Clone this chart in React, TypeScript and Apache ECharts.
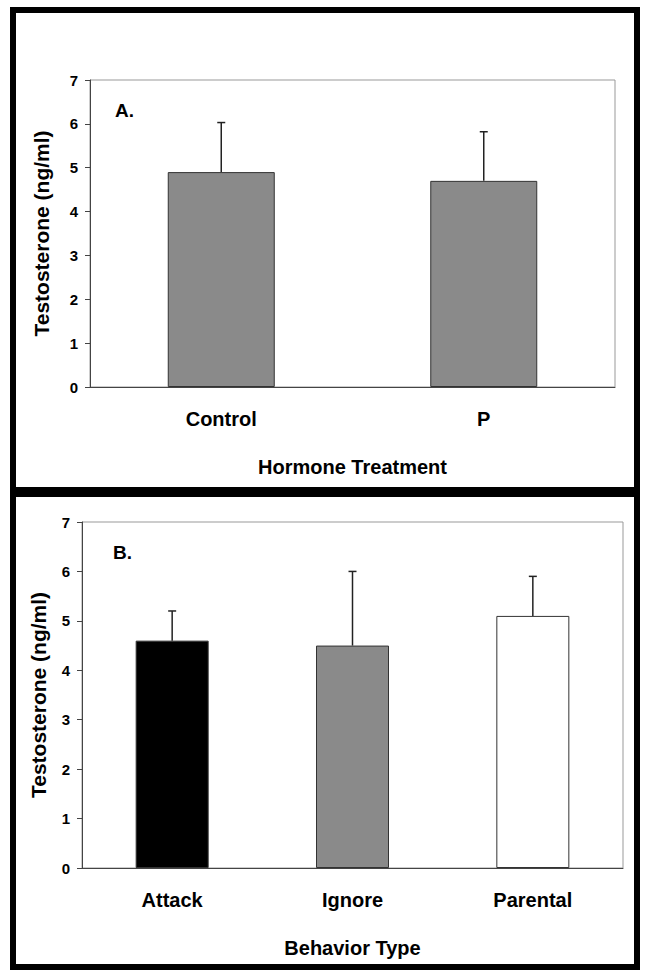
import React, { useEffect, useRef } from "react";
import * as echarts from "echarts";

const topCategories = ["Control", "P"];
const topMeans = [4.9, 4.7];
const topErrors = [1.13, 1.12];

const bottomCategories = ["Attack", "Ignore", "Parental"];
const bottomMeans = [4.6, 4.5, 5.1];
const bottomErrors = [0.6, 1.5, 0.8];

const yMin = 0;
const yMax = 7;
const yInterval = 1;

const yTitle = "Testosterone (ng/ml)";
const topXTitle = "Hormone Treatment";
const bottomXTitle = "Behavior Type";
const topPanelLabel = "A.";
const bottomPanelLabel = "B.";

const FONT = "'Liberation Sans', Arial, sans-serif";
const GRAY_FILL = "#8a8a8a";
const bottomFills = ["#000000", GRAY_FILL, "#ffffff"];

function errorRender(params: any, api: any) {
  const x = api.value(0);
  const mean = api.value(1);
  const err = api.value(2);
  const base = api.coord([x, mean]);
  const top = api.coord([x, mean + err]);
  const cap = 4;
  const style = { stroke: "#222", lineWidth: 1.5 };
  return {
    type: "group",
    children: [
      { type: "line", shape: { x1: base[0], y1: base[1], x2: top[0], y2: top[1] }, style },
      { type: "line", shape: { x1: top[0] - cap, y1: top[1], x2: top[0] + cap, y2: top[1] }, style },
    ],
  };
}

export default function App() {
  const ref = useRef<HTMLDivElement>(null);
  useEffect(() => {
    if (!ref.current) return;
    const chart = echarts.init(ref.current, null, { renderer: "svg" });
    const yAxisBase = (gridIndex: number, nameGap: number) => ({
      type: "value",
      gridIndex,
      min: yMin,
      max: yMax,
      interval: yInterval,
      name: yTitle,
      nameLocation: "middle",
      nameGap,
      nameRotate: 90,
      nameTextStyle: { fontFamily: FONT, fontWeight: "bold", fontSize: 21, color: "#000" },
      axisLine: { show: true, lineStyle: { color: "#444", width: 1 } },
      axisTick: { show: true, length: 5, lineStyle: { color: "#444" } },
      axisLabel: { fontFamily: FONT, fontWeight: "bold", fontSize: 15, color: "#000", margin: 12 },
      splitLine: { show: false },
    });
    const xAxisBase = (gridIndex: number, data: string[], name: string) => ({
      type: "category",
      gridIndex,
      data,
      name,
      nameLocation: "middle",
      nameGap: 70,
      nameTextStyle: { fontFamily: FONT, fontWeight: "bold", fontSize: 20, color: "#000" },
      axisLine: { show: true, lineStyle: { color: "#444", width: 1 } },
      axisTick: { show: false },
      axisLabel: { fontFamily: FONT, fontWeight: "bold", fontSize: 20, color: "#000", margin: 22 },
    });
    chart.setOption({
      animation: false,
      backgroundColor: "#ffffff",
      grid: [
        { left: 90, top: 80, width: 525, height: 307, show: true, borderColor: "#999", borderWidth: 1, backgroundColor: "transparent" },
        { left: 82, top: 522, width: 541, height: 346, show: true, borderColor: "#999", borderWidth: 1, backgroundColor: "transparent" },
      ],
      xAxis: [xAxisBase(0, topCategories, topXTitle), xAxisBase(1, bottomCategories, bottomXTitle)],
      yAxis: [yAxisBase(0, 38), yAxisBase(1, 33)],
      series: [
        {
          type: "bar",
          xAxisIndex: 0,
          yAxisIndex: 0,
          barWidth: 107,
          data: topMeans,
          itemStyle: { color: GRAY_FILL, borderColor: "#333", borderWidth: 1 },
        },
        {
          type: "custom",
          xAxisIndex: 0,
          yAxisIndex: 0,
          renderItem: errorRender,
          encode: { x: 0, y: 1 },
          data: topMeans.map((m, i) => [i, m, topErrors[i]]),
          z: 5,
        },
        {
          type: "bar",
          xAxisIndex: 1,
          yAxisIndex: 1,
          barWidth: 73,
          data: bottomMeans.map((m, i) => ({ value: m, itemStyle: { color: bottomFills[i] } })),
          itemStyle: { borderColor: "#333", borderWidth: 1 },
        },
        {
          type: "custom",
          xAxisIndex: 1,
          yAxisIndex: 1,
          renderItem: errorRender,
          encode: { x: 0, y: 1 },
          data: bottomMeans.map((m, i) => [i, m, bottomErrors[i]]),
          z: 5,
        },
      ],
      graphic: [
        { type: "rect", shape: { x: 10, y: 7, width: 630, height: 6 }, style: { fill: "#000" }, silent: true },
        { type: "rect", shape: { x: 10, y: 7, width: 6, height: 963 }, style: { fill: "#000" }, silent: true },
        { type: "rect", shape: { x: 634, y: 7, width: 6, height: 963 }, style: { fill: "#000" }, silent: true },
        { type: "rect", shape: { x: 10, y: 964, width: 630, height: 6 }, style: { fill: "#000" }, silent: true },
        { type: "rect", shape: { x: 10, y: 487, width: 630, height: 10 }, style: { fill: "#000" }, silent: true },
        {
          type: "text",
          left: 115,
          top: 101,
          style: { text: topPanelLabel, font: `bold 19px ${FONT}`, fill: "#000" },
        },
        {
          type: "text",
          left: 113,
          top: 543,
          style: { text: bottomPanelLabel, font: `bold 19px ${FONT}`, fill: "#000" },
        },
      ],
    });
    return () => chart.dispose();
  }, []);
  return (
    <div
      ref={ref}
      style={{ position: "fixed", left: 0, top: 0, width: 649, height: 979, background: "#fff" }}
    />
  );
}
